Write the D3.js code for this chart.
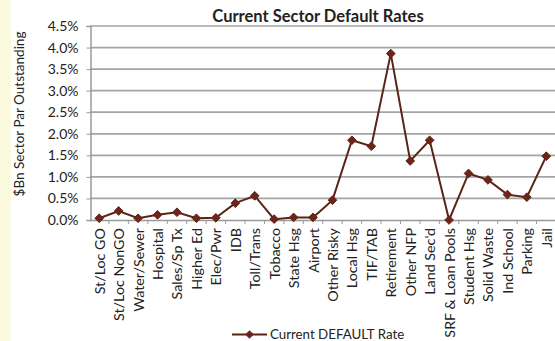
<!DOCTYPE html>
<html><head><meta charset="utf-8">
<script src="https://cdn.jsdelivr.net/npm/d3@7"></script>
<style>body{margin:0;background:#fff}svg{display:block}</style>
</head><body>
<script>
const categories = ["St/Loc GO","St/Loc NonGO","Water/Sewer","Hospital","Sales/Sp Tx","Higher Ed","Elec/Pwr","IDB","Toll/Trans","Tobacco","State Hsg","Airport","Other Risky","Local Hsg","TIF/TAB","Retirement","Other NFP","Land Sec'd","SRF & Loan Pools","Student Hsg","Solid Waste","Ind School","Parking","Jail"];
const rates = [0.04,0.21,0.04,0.12,0.18,0.04,0.05,0.39,0.56,0.02,0.06,0.06,0.46,1.85,1.71,3.86,1.37,1.85,0.0,1.08,0.93,0.59,0.53,1.48];
const yTicks = [0,0.5,1,1.5,2,2.5,3,3.5,4,4.5];
const seriesName = "Current DEFAULT Rate";

const W=555,H=341;
const font="Lato, 'Open Sans', sans-serif";
const svg=d3.select("body").append("svg").attr("width",W).attr("height",H);
svg.append("rect").attr("width",11).attr("height",H).attr("fill","#fbf9de");

const x=d3.scalePoint().domain(categories).range([89.5,556]).padding(0.5);
const y=d3.scaleLinear().domain([0,4.5]).range([220,26]);

// gridlines
svg.append("g").selectAll("line").data(yTicks.slice(1)).join("line")
  .attr("x1",90).attr("x2",W).attr("y1",d=>y(d)).attr("y2",d=>y(d))
  .attr("stroke","#a5a5a5").attr("stroke-width",1.7);

// y axis
const yAx=svg.append("g").attr("transform","translate(90.5,0)")
  .call(d3.axisLeft(y).tickValues(yTicks).tickFormat(d=>d.toFixed(1)+"%").tickSize(4).tickPadding(8));
yAx.select(".domain").attr("stroke","#9a9a9a").attr("stroke-width",1.5);
yAx.selectAll(".tick line").attr("stroke","#9a9a9a");
yAx.selectAll("text").attr("font-family",font).attr("font-size",14).attr("fill","#222");

// x axis
const xAx=svg.append("g").attr("transform","translate(0,220)")
  .call(d3.axisBottom(x).tickSize(0).tickPadding(0));
xAx.select(".domain").remove();
svg.append("line").attr("x1",90).attr("x2",W).attr("y1",220.5).attr("y2",220.5).attr("stroke","#9a9a9a").attr("stroke-width",1.5);
const step=x.step();
svg.append("g").selectAll("line").data(categories).join("line")
  .attr("x1",d=>x(d)+step/2).attr("x2",d=>x(d)+step/2).attr("y1",220).attr("y2",224)
  .attr("stroke","#9a9a9a");
xAx.selectAll("text")
  .attr("font-family",font).attr("font-size",14.3).attr("fill","#222")
  .attr("transform","rotate(-90)").attr("text-anchor","end")
  .attr("x",-8).attr("y",0).attr("dy","0.35em");

// line
const col="#5b2417";
svg.append("path").datum(rates)
  .attr("d",d3.line().x((d,i)=>x(categories[i])).y(d=>y(d)))
  .attr("fill","none").attr("stroke",col).attr("stroke-width",2);
const diamond=d3.symbol().type(d3.symbolDiamond2).size(48);
svg.append("g").selectAll("path").data(rates).join("path")
  .attr("transform",(d,i)=>`translate(${x(categories[i])},${y(d)})`)
  .attr("d",diamond).attr("fill","#6e2418").attr("stroke","#5b2417");

// title
svg.append("text").attr("x",318).attr("y",22).attr("text-anchor","middle")
  .attr("font-family",font).attr("font-weight","bold").attr("font-size",16.5).attr("fill","#222")
  .text("Current Sector Default Rates");

// y title
svg.append("text").attr("transform","translate(24,114) rotate(-90)").attr("text-anchor","middle")
  .attr("font-family",font).attr("font-size",13.5).attr("fill","#222")
  .text("$Bn Sector Par Outstanding");

// legend
const lg=svg.append("g").attr("transform","translate(232,334.5)");
lg.append("line").attr("x1",0).attr("x2",35).attr("stroke",col).attr("stroke-width",2);
lg.append("path").attr("transform","translate(17.5,0)").attr("d",diamond).attr("fill","#6e2418");
lg.append("text").attr("x",38).attr("dy","0.35em").attr("font-family",font).attr("font-size",13.3).attr("fill","#222").text(seriesName);
</script>
</body></html>
